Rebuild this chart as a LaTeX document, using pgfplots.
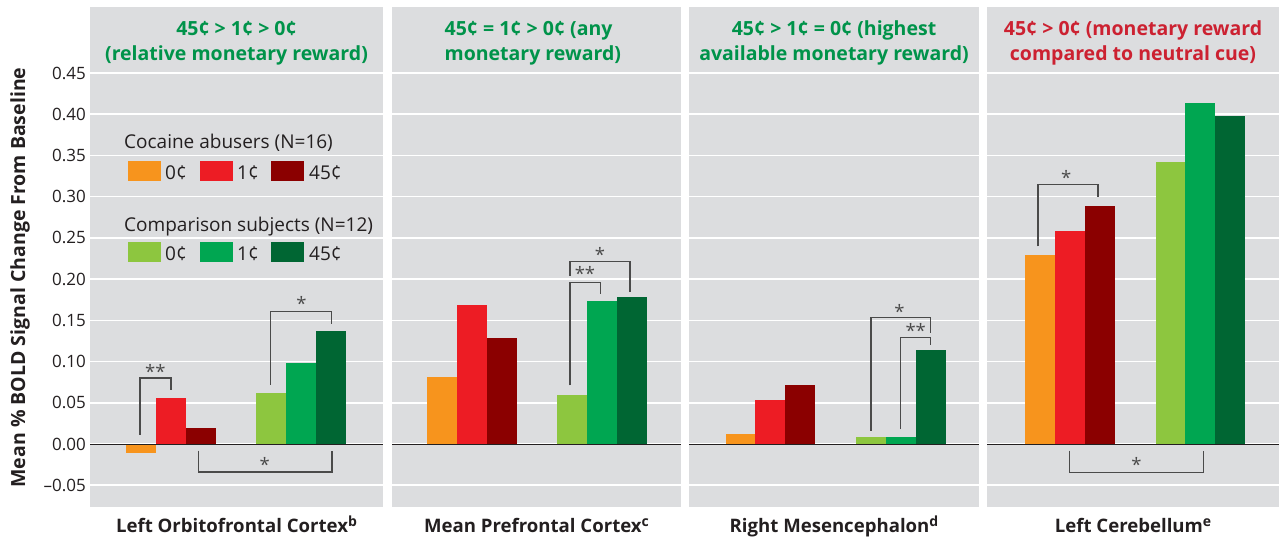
\documentclass[border=0pt]{standalone}
\usepackage{fontspec}
\setmainfont{Open Sans}
\usepackage{pgfplots}
\pgfplotsset{compat=1.18}
\definecolor{bg}{HTML}{DCDDDF}
\definecolor{c0}{HTML}{F7941D}
\definecolor{c1}{HTML}{ED1C24}
\definecolor{c45}{HTML}{8B0000}
\definecolor{g0}{HTML}{8DC63F}
\definecolor{g1}{HTML}{00A651}
\definecolor{g45}{HTML}{006633}
\definecolor{tgreen}{HTML}{00934A}
\definecolor{tred}{HTML}{CC2131}
\definecolor{txt}{HTML}{231F20}
\definecolor{brk}{HTML}{4A4A4A}
\pgfplotsset{
  panel/.style={scale only axis, height=499.7pt, ymin=-0.076, ymax=0.53, xmin=0,
    anchor=south west,
    axis background/.style={fill=bg}, axis line style={draw=none},
    ytick={-0.05,0,0.05,0.1,0.15,0.2,0.25,0.3,0.35,0.4,0.45},
    ymajorgrids, grid style={white,line width=1.6pt},
    xtick=\empty, major tick length=0pt, yticklabels={}, clip=false},
  bb/.style={ybar, bar width=1, bar shift=0pt, draw=none, fill=#1},
}
\tikzset{br/.style={draw=brk, line width=1.2pt}}
\newcommand{\tfont}{\fontsize{19.5}{25}\selectfont\bfseries}
\newcommand{\sfont}{\fontsize{18.5}{18.5}\selectfont}
\newcommand{\lfont}{\fontsize{19}{19}\selectfont}
\newcommand{\xl}[2]{\fontsize{18.6}{18.6}\selectfont\bfseries #1\raisebox{0.55ex}{\fontsize{14}{14}\selectfont #2}}
\begin{document}
\begin{tikzpicture}
\path[use as bounding box] (0pt,0pt) rectangle (1279pt,538pt);
% Panel 1
\begin{axis}[panel, at={(90pt,31.3pt)}, width=293pt, xmax=9.77,
  yticklabels={\textendash0.05,0.00,0.05,0.10,0.15,0.20,0.25,0.30,0.35,0.40,0.45},
  yticklabel style={font=\fontsize{17}{17}\selectfont, text=txt, inner sep=0pt, xshift=-4pt}]
\addplot[bb=c0] coordinates {(1.7,-0.011)};
\addplot[bb=c1] coordinates {(2.7,0.056)};
\addplot[bb=c45] coordinates {(3.7,0.020)};
\addplot[bb=g0] coordinates {(6.05,0.062)};
\addplot[bb=g1] coordinates {(7.05,0.098)};
\addplot[bb=g45] coordinates {(8.05,0.137)};
\draw[txt,line width=1pt] (axis cs:0,0) -- (axis cs:9.77,0);
\draw[br] (axis cs:1.67,0.011) -- (axis cs:1.67,0.080) -- (axis cs:2.7,0.080) -- (axis cs:2.7,0.066);
\node[text=brk,font=\sfont] at (axis cs:2.18,0.088) {**};
\draw[br] (axis cs:6.03,0.072) -- (axis cs:6.03,0.161) -- (axis cs:8.06,0.161) -- (axis cs:8.06,0.145);
\node[text=brk,font=\sfont] at (axis cs:7.05,0.170) {*};
\draw[br] (axis cs:3.62,-0.008) -- (axis cs:3.62,-0.034) -- (axis cs:8.07,-0.034) -- (axis cs:8.07,-0.008);
\node[text=brk,font=\sfont] at (axis cs:5.83,-0.025) {*};
\node[text=tgreen,font=\tfont,align=center] at (rel axis cs:0.5,0.928) {45¢ > 1¢ > 0¢\\(relative monetary reward)};
\end{axis}
% Panel 2
\begin{axis}[panel, at={(392pt,31.3pt)}, width=289pt, xmax=9.63]
\addplot[bb=c0] coordinates {(1.67,0.081)};
\addplot[bb=c1] coordinates {(2.67,0.168)};
\addplot[bb=c45] coordinates {(3.65,0.128)};
\addplot[bb=g0] coordinates {(6.0,0.059)};
\addplot[bb=g1] coordinates {(7.0,0.173)};
\addplot[bb=g45] coordinates {(8.0,0.178)};
\draw[txt,line width=1pt] (axis cs:0,0) -- (axis cs:9.63,0);
\draw[br] (axis cs:5.93,0.071) -- (axis cs:5.93,0.196) -- (axis cs:6.96,0.196) -- (axis cs:6.96,0.182);
\node[text=brk,font=\sfont] at (axis cs:6.43,0.207) {**};
\draw[br] (axis cs:5.93,0.204) -- (axis cs:5.93,0.221) -- (axis cs:7.93,0.221) -- (axis cs:7.93,0.184);
\node[text=brk,font=\sfont] at (axis cs:6.93,0.230) {*};
\node[text=tgreen,font=\tfont,align=left,anchor=west] at (rel axis cs:0.17,0.928) {45¢ = 1¢ > 0¢ (any\\monetary reward)};
\end{axis}
% Panel 3
\begin{axis}[panel, at={(689pt,31.3pt)}, width=290pt, xmax=9.67]
\addplot[bb=c0] coordinates {(1.72,0.012)};
\addplot[bb=c1] coordinates {(2.7,0.053)};
\addplot[bb=c45] coordinates {(3.69,0.072)};
\addplot[bb=g0] coordinates {(6.06,0.008)};
\addplot[bb=g1] coordinates {(7.06,0.008)};
\addplot[bb=g45] coordinates {(8.06,0.114)};
\draw[txt,line width=1pt] (axis cs:0,0) -- (axis cs:9.67,0);
\draw[br] (axis cs:6.07,0.016) -- (axis cs:6.07,0.153) -- (axis cs:8.04,0.153) -- (axis cs:8.04,0.135);
\node[text=brk,font=\sfont] at (axis cs:7.02,0.161) {*};
\draw[br] (axis cs:7.04,0.018) -- (axis cs:7.04,0.129) -- (axis cs:8.04,0.129) -- (axis cs:8.04,0.120);
\node[text=brk,font=\sfont] at (axis cs:7.56,0.138) {**};
\node[text=tgreen,font=\tfont,align=center] at (rel axis cs:0.5,0.928) {45¢ > 1¢ = 0¢ (highest\\available monetary reward)};
\end{axis}
% Panel 4
\begin{axis}[panel, at={(987pt,31.3pt)}, width=292pt, xmax=9.73]
\addplot[bb=c0] coordinates {(1.78,0.229)};
\addplot[bb=c1] coordinates {(2.78,0.258)};
\addplot[bb=c45] coordinates {(3.78,0.289)};
\addplot[bb=g0] coordinates {(6.12,0.342)};
\addplot[bb=g1] coordinates {(7.11,0.414)};
\addplot[bb=g45] coordinates {(8.11,0.398)};
\draw[txt,line width=1pt] (axis cs:0,0) -- (axis cs:9.73,0);
\draw[br] (axis cs:1.7,0.2396) -- (axis cs:1.7,0.3146) -- (axis cs:3.7,0.3146) -- (axis cs:3.7,0.299);
\node[text=brk,font=\sfont] at (axis cs:2.64,0.323) {*};
\draw[br] (axis cs:2.76,-0.008) -- (axis cs:2.76,-0.0346) -- (axis cs:7.22,-0.0346) -- (axis cs:7.22,-0.008);
\node[text=brk,font=\sfont] at (axis cs:4.98,-0.025) {*};
\node[text=tred,font=\tfont,align=center] at (rel axis cs:0.5,0.928) {45¢ > 0¢ (monetary reward\\compared to neutral cue)};
\end{axis}
% Legend
\node[anchor=base west,inner sep=0pt,text=txt,font=\lfont] at (124pt,389pt) {Cocaine abusers (N=16)};
\fill[c0] (128pt,357pt) rectangle (161pt,377pt);
\fill[c1] (200pt,357pt) rectangle (233pt,377pt);
\fill[c45] (271pt,357pt) rectangle (304pt,377pt);
\node[anchor=base west,inner sep=0pt,text=txt,font=\lfont] at (165pt,358pt) {0¢};
\node[anchor=base west,inner sep=0pt,text=txt,font=\lfont] at (237pt,358pt) {1¢};
\node[anchor=base west,inner sep=0pt,text=txt,font=\lfont] at (309pt,358pt) {45¢};
\node[anchor=base west,inner sep=0pt,text=txt,font=\lfont] at (124pt,306pt) {Comparison subjects (N=12)};
\fill[g0] (128pt,276pt) rectangle (161pt,296pt);
\fill[g1] (200pt,276pt) rectangle (233pt,296pt);
\fill[g45] (271pt,276pt) rectangle (304pt,296pt);
\node[anchor=base west,inner sep=0pt,text=txt,font=\lfont] at (165pt,277pt) {0¢};
\node[anchor=base west,inner sep=0pt,text=txt,font=\lfont] at (237pt,277pt) {1¢};
\node[anchor=base west,inner sep=0pt,text=txt,font=\lfont] at (309pt,277pt) {45¢};
% Axis labels
\node[rotate=90,text=txt,font=\fontsize{19.5}{19.5}\selectfont\bfseries] at (20pt,260.5pt) {Mean \% BOLD Signal Change From Baseline};
\node[anchor=base,text=txt,inner sep=0pt] at (236.5pt,6pt) {\xl{Left Orbitofrontal Cortex}{b}};
\node[anchor=base,text=txt,inner sep=0pt] at (536.5pt,6pt) {\xl{Mean Prefrontal Cortex}{c}};
\node[anchor=base,text=txt,inner sep=0pt] at (834pt,6pt) {\xl{Right Mesencephalon}{d}};
\node[anchor=base,text=txt,inner sep=0pt] at (1133pt,6pt) {\xl{Left Cerebellum}{e}};
\end{tikzpicture}
\end{document}
